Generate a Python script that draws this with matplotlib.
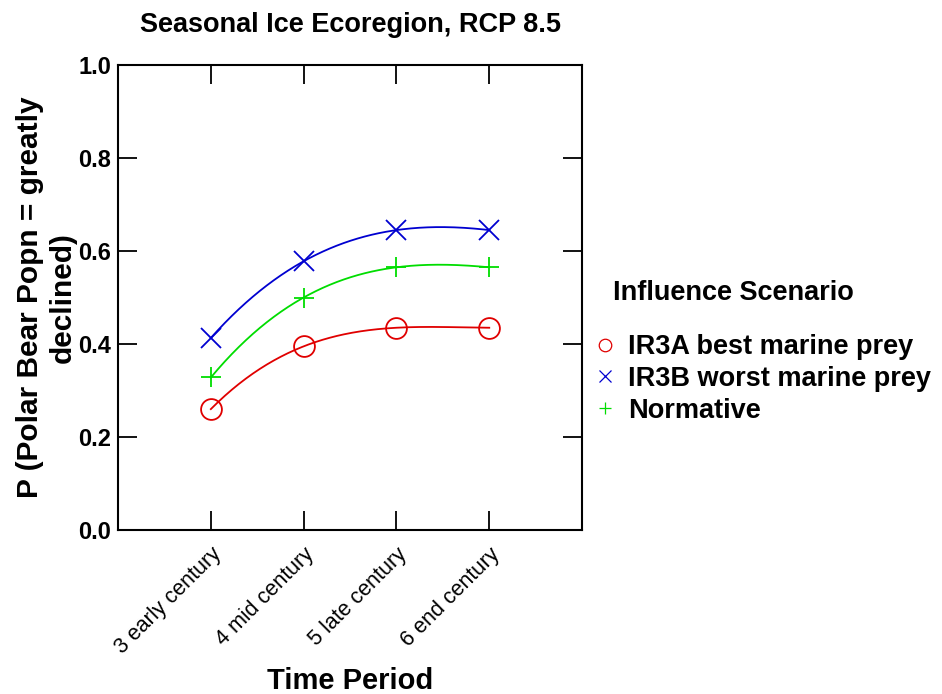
import numpy as np
import matplotlib
matplotlib.use("Agg")
import matplotlib.pyplot as plt

plt.rcParams['font.family'] = ['Liberation Sans', 'DejaVu Sans']

# data
periods = [3, 4, 5, 6]
period_labels = ["3 early century", "4 mid century", "5 late century", "6 end century"]
best_prey = [0.260, 0.395, 0.435, 0.435]
worst_prey = [0.413, 0.578, 0.645, 0.645]
normative = [0.328, 0.500, 0.565, 0.565]

series = [
    ("IR3A best marine prey", best_prey, "#e00000", "o"),
    ("IR3B worst marine prey", worst_prey, "#0000d0", "x"),
    ("Normative", normative, "#00dd00", "+"),
]

fig = plt.figure(figsize=(9.42, 6.94), dpi=100)
ax = fig.add_axes([0.1253, 0.2363, 0.4926, 0.67])

xs = np.linspace(periods[0], periods[-1], 200)
for name, vals, col, mk in series:
    # smooth curve through the points (cubic through 4 points)
    coef = np.polyfit(periods, vals, 3)
    ax.plot(xs, np.polyval(coef, xs), color=col, lw=1.3)
    ax.plot(periods, vals, ls="none", marker=mk, markersize=15,
            markerfacecolor="none", markeredgecolor=col, markeredgewidth=1.3,
            label=name)

ax.set_xlim(2, 7)
ax.set_ylim(0, 1)
ax.set_xticks(periods)
ax.set_xticklabels(period_labels, rotation=45, ha="right", rotation_mode="anchor",
                   fontsize=15.5)
ax.set_yticks([0, 0.2, 0.4, 0.6, 0.8, 1.0])
ax.set_yticklabels(["0.0", "0.2", "0.4", "0.6", "0.8", "1.0"], fontsize=17,
                   fontweight="bold")
ax.tick_params(direction="in", length=14, width=1.3, top=True, right=True, pad=5)
ax.tick_params(axis="x", pad=10)
for sp in ax.spines.values():
    sp.set_linewidth(1.5)

ax.set_title("Seasonal Ice Ecoregion, RCP 8.5", fontsize=19.5, fontweight="bold", pad=24)
ax.set_xlabel("Time Period", fontsize=21, fontweight="bold", labelpad=6)
ax.set_ylabel("P (Polar Bear Popn = greatly\ndeclined)", fontsize=21.5,
              fontweight="bold", labelpad=1)

fig.text(613 / 942, 1 - 293 / 694, "Influence Scenario", fontsize=19.5,
         fontweight="bold", ha="left", va="center")
leg = fig.legend(loc="upper left", bbox_to_anchor=(597 / 942, 1 - 334 / 694),
                 frameon=False, markerscale=0.6, handlelength=0.6,
                 handletextpad=0.55, labelspacing=0.22, borderpad=0,
                 borderaxespad=0, prop={"size": 19.5, "weight": "bold"})
for h in leg.legend_handles:
    h.set_markeredgewidth(0.9)

fig.savefig("out.png", dpi=100)
